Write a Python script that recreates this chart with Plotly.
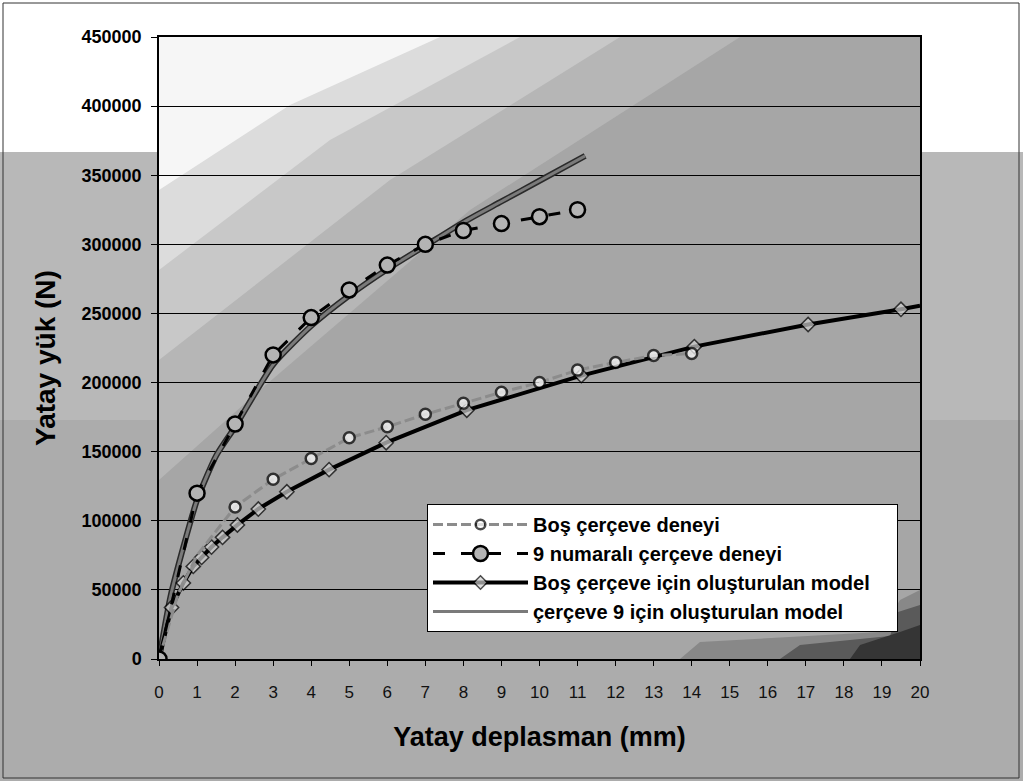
import plotly.graph_objects as go

# ---------------- data ----------------
bos_test_x = [0, 0.5, 1, 2, 3, 4, 5, 6, 7, 8, 9, 10, 11, 12, 13, 14]
bos_test_y = [0, 47000, 75000, 110000, 130000, 145000, 160000, 168000, 177000,
              185000, 193000, 200000, 209000, 214500, 219500, 221000]

f9_test_x = [0, 1, 2, 3, 4, 5, 6, 7, 8, 9, 10, 11]
f9_test_y = [0, 120000, 170000, 220000, 247000, 267000, 285000, 300000,
             310000, 315000, 320000, 325000]

bos_model_x = [0, 0.33, 0.64, 0.9, 1.12, 1.38, 1.67, 2.06, 2.61, 3.36, 4.47,
               5.97, 8.09, 11.1, 14.07, 17.06, 19.5, 20]
bos_model_y = [0, 37200, 55000, 67000, 73500, 81000, 88000, 97000, 108500,
               121000, 137000, 156500, 180000, 205000, 226000, 242000,
               253000, 255500]

f9_model_x = [0, 0.3, 0.65, 1, 1.5, 2, 3, 4, 5, 6, 7, 8, 9, 10, 11.2]
f9_model_y = [0, 45000, 82000, 115000, 147000, 168000, 213000, 241000,
              263000, 282000, 299000, 316000, 331000, 346000, 364000]

names = ["Boş çerçeve deneyi", "9 numaralı çerçeve deneyi",
         "Boş çerçeve için oluşturulan model", "çerçeve 9 için oluşturulan model"]

x_title = "Yatay deplasman (mm)"
y_title = "Yatay yük (N)"
x_ticks = list(range(0, 21))
y_ticks = list(range(0, 450001, 50000))

# ---------------- figure ----------------
W, H = 1023, 781
L, R, T, B = 159, 103, 37, 122
PW, PH = W - L - R, H - T - B
FONT = "Liberation Sans, Arial, sans-serif"


def px(x):
    return (x - L) / PW


def py(y):
    return (H - B - y) / PH


def poly(pts):
    return "M " + " L ".join(f"{px(a):.4f},{py(b):.4f}" for a, b in pts) + " Z"


fig = go.Figure()

# model 9 (gray thick line with dark edge)
fig.add_trace(go.Scatter(x=f9_model_x, y=f9_model_y, mode="lines",
                         line=dict(color="#2a2a2a", width=6, shape="spline", smoothing=0.6),
                         showlegend=False, hoverinfo="skip"))
fig.add_trace(go.Scatter(x=f9_model_x, y=f9_model_y, mode="lines", name=names[3],
                         legendgroup="d", legendrank=4,
                         line=dict(color="#7a7a7a", width=3, shape="spline", smoothing=0.6)))

# bos model (black line, diamonds)
sizes = [11] * (len(bos_model_x) - 1) + [0]
fig.add_trace(go.Scatter(x=bos_model_x, y=bos_model_y, mode="lines+markers",
                         name=names[2] + "\u00a0\u00a0\u00a0\u00a0",
                         legendgroup="c", legendrank=3,
                         line=dict(color="black", width=4),
                         marker=dict(symbol="diamond", size=sizes, color="#cfcfcf",
                                     line=dict(color="black", width=1.5))))

# bos test (gray dashed, white circles)
bos_sizes = [11 if v >= 2 or v == 0 else 0 for v in bos_test_x]
fig.add_trace(go.Scatter(x=bos_test_x, y=bos_test_y, mode="lines+markers", name=names[0],
                         legendgroup="a", legendrank=1,
                         line=dict(color="#8c8c8c", width=3, dash="10px,4px"),
                         marker=dict(symbol="circle", size=bos_sizes, color="white",
                                     line=dict(color="black", width=2.5))))

# frame 9 test (black dashed, gray circles)
fig.add_trace(go.Scatter(x=f9_test_x, y=f9_test_y, mode="lines+markers", name=names[1],
                         legendgroup="b", legendrank=2,
                         line=dict(color="black", width=3, dash="12px,16px"),
                         marker=dict(symbol="circle", size=15, color="#b4b4b4",
                                     line=dict(color="black", width=2.5))))

# ---------------- background (scanned gray look) ----------------
shapes = [
    # top white band of the page
    dict(type="rect", xref="paper", yref="paper", x0=px(0), x1=px(W), y0=py(0), y1=py(152),
         fillcolor="white", line_width=0, layer="below"),
    # light speckled band in margins below the white band
    dict(type="rect", xref="paper", yref="paper", x0=px(0), x1=px(W), y0=py(152), y1=py(420),
         fillcolor="#b8b8b8", line_width=0, layer="below"),
    # plot area base gray
    dict(type="rect", xref="paper", yref="paper", x0=0, x1=1, y0=0, y1=1,
         fillcolor="#a6a6a6", line_width=0, layer="below"),
    # lighter diagonal zones
    dict(type="path", xref="paper", yref="paper",
         path=poly([(159, 37), (740, 37), (470, 210), (260, 390), (159, 480)]),
         fillcolor="#b6b6b6", line_width=0, layer="below"),
    dict(type="path", xref="paper", yref="paper",
         path=poly([(159, 37), (620, 37), (390, 180), (159, 360)]),
         fillcolor="#c8c8c8", line_width=0, layer="below"),
    dict(type="path", xref="paper", yref="paper",
         path=poly([(159, 37), (520, 37), (330, 140), (159, 270)]),
         fillcolor="#dcdcdc", line_width=0, layer="below"),
    # white corner
    dict(type="path", xref="paper", yref="paper",
         path=poly([(159, 37), (440, 37), (290, 105), (159, 190)]),
         fillcolor="#f6f6f6", line_width=0, layer="below"),
    # dark bottom-right corner
    dict(type="path", xref="paper", yref="paper",
         path=poly([(680, 659), (920, 659), (920, 590), (900, 600), (880, 632), (700, 642)]),
         fillcolor="#888888", line_width=0, layer="below"),
    dict(type="path", xref="paper", yref="paper",
         path=poly([(780, 659), (920, 659), (920, 605), (898, 612), (890, 636), (800, 645)]),
         fillcolor="#5a5a5a", line_width=0, layer="below"),
    dict(type="path", xref="paper", yref="paper",
         path=poly([(850, 659), (920, 659), (920, 625), (900, 632), (860, 645)]),
         fillcolor="#353535", line_width=0, layer="below"),
    # outer frame
    dict(type="rect", xref="paper", yref="paper", x0=px(3), x1=px(1019), y0=py(3), y1=py(778),
         fillcolor="rgba(0,0,0,0)", line=dict(color="#333333", width=1), layer="below"),
]

annotations = [
    dict(text=y_title, xref="paper", yref="paper", x=px(45), y=py(358),
         xanchor="center", yanchor="middle", textangle=-90, showarrow=False,
         font=dict(family=FONT, size=28, color="black", weight="bold")),
]

fig.update_layout(
    width=W, height=H, autosize=False,
    margin=dict(l=L, r=R, t=T, b=B, pad=0),
    paper_bgcolor="#acacac", plot_bgcolor="#a6a6a6",
    font=dict(family=FONT, color="black"),
    shapes=shapes,
    annotations=annotations,
    showlegend=True,
    legend=dict(x=px(427), y=py(504), xanchor="left", yanchor="top",
                bgcolor="white", bordercolor="black", borderwidth=1,
                font=dict(family=FONT, size=20, color="black", weight="bold"),
                traceorder="normal", tracegroupgap=11, itemwidth=95),
)

fig.update_xaxes(range=[0, 20], tickmode="array", tickvals=x_ticks,
                 ticktext=[str(v) for v in x_ticks],
                 showgrid=False, zeroline=False,
                 showline=True, linecolor="black", linewidth=1.5, mirror=True,
                 ticks="outside", ticklen=5, tickcolor="black", ticklabelstandoff=12,
                 tickfont=dict(family=FONT, size=17, color="#111111"),
                 title=dict(text=x_title, standoff=26,
                            font=dict(family=FONT, size=27, color="black", weight="bold")))

fig.update_yaxes(range=[0, 450000], tickmode="array", tickvals=y_ticks,
                 ticktext=[str(v) for v in y_ticks],
                 showgrid=True, gridcolor="black", gridwidth=1, zeroline=False,
                 showline=True, linecolor="black", linewidth=1.5, mirror=True,
                 ticks="outside", ticklen=6, tickcolor="black", ticklabelstandoff=6,
                 tickfont=dict(family=FONT, size=18, color="black", weight="bold"),
                 title=dict(text=""))

fig.write_html("out.html", config={"displayModeBar": False},
               post_script="document.body.style.margin='0';")
